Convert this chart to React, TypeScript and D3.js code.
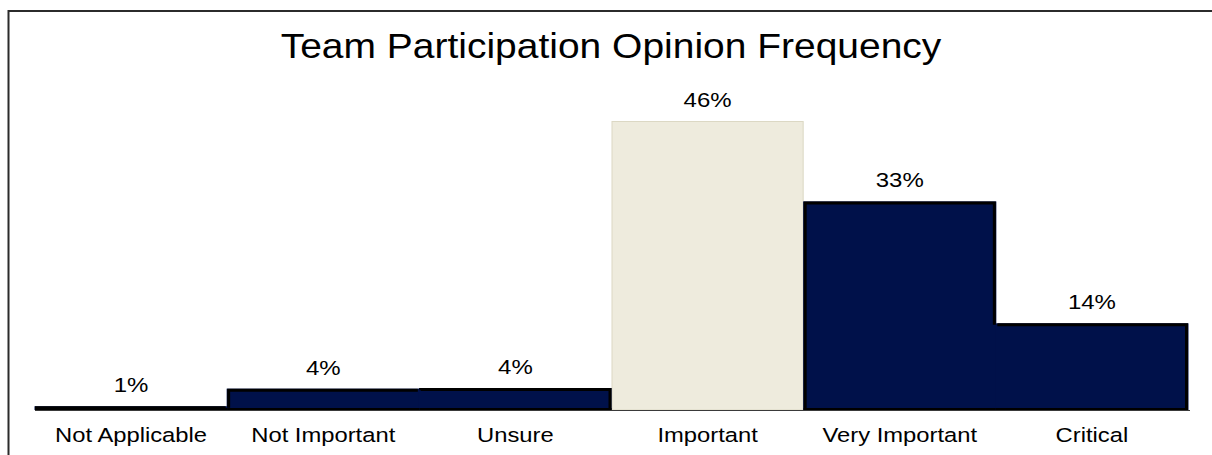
import React from "react";
import * as d3 from "d3";

const categories = ["Not Applicable", "Not Important", "Unsure", "Important", "Very Important", "Critical"];
const values = [0.6, 3.4, 3.5, 46, 33.2, 13.8];
const valueLabels = ["1%", "4%", "4%", "46%", "33%", "14%"];
const highlighted = ["Important"];
const title = "Team Participation Opinion Frequency";

const W = 1212;
const H = 455;
const FONT = "'Liberation Sans', Arial, Helvetica, sans-serif";

export default function App() {
  const x = d3.scaleBand<string>().domain(categories).range([35, 1188]).padding(0);
  const y = d3.scaleLinear().domain([0, 46]).range([410, 121]);
  const bw = x.bandwidth();
  const base = y(0);

  const isHi = (i: number) => highlighted.includes(categories[i]);

  // outline of the dark bars: top edges plus the visible part of the side edges
  const outline = d3.path();
  categories.forEach((c, i) => {
    if (isHi(i)) return;
    const x0 = x(c)! + 1.5;
    const x1 = x(c)! + bw - 1.5;
    const top = y(values[i]) + 1.5;
    const left = i > 0 && !isHi(i - 1) ? Math.max(top, y(values[i - 1]) + 1.5) : base;
    const right = i < categories.length - 1 && !isHi(i + 1) ? Math.max(top, y(values[i + 1]) + 1.5) : base;
    outline.moveTo(x0, left);
    outline.lineTo(x0, top);
    outline.lineTo(x1, top);
    outline.lineTo(x1, right);
  });

  return (
    <svg
      width={W}
      height={H}
      style={{ position: "absolute", left: 0, top: 0, background: "#fff", overflow: "hidden" }}
      fontFamily={FONT}
    >
      <rect x={0} y={0} width={W} height={H} fill="#fff" />
      {/* frame */}
      <path d={`M8.5,${H + 10}V11H${W + 10}`} fill="none" stroke="#2b2b2b" strokeWidth={2} />

      <text transform={`translate(611,58) scale(1.13,1)`} textAnchor="middle" fontSize={34.5} fill="#000">
        {title}
      </text>

      {categories.map((c, i) => {
        const x0 = x(c)!;
        const top = y(values[i]);
        return isHi(i) ? (
          <rect
            key={c}
            x={x0 + 0.5}
            y={top + 0.5}
            width={bw - 1}
            height={base - top - 0.5}
            fill="#EEEBDD"
            stroke="#DCD8C4"
            strokeWidth={1}
          />
        ) : (
          <rect key={c} x={x0 - 0.5} y={top} width={bw + 1} height={base - top} fill="#00114A" />
        );
      })}

      <path d={outline.toString()} fill="none" stroke="#000" strokeWidth={3} strokeLinejoin="miter" />

      {categories.map((c, i) =>
        isHi(i) ? null : (
          <line
            key={"b" + c}
            x1={x(c)!}
            x2={x(c)! + bw}
            y1={base - 1}
            y2={base - 1}
            stroke="#000"
            strokeWidth={2}
          />
        )
      )}

      <line x1={35} x2={1190} y1={410.5} y2={410.5} stroke="#3a3a3a" strokeWidth={1} />

      {categories.map((c, i) => (
        <text
          key={"v" + c}
          transform={`translate(${x(c)! + bw / 2},${y(values[i]) - 14}) scale(1.2,1)`}
          textAnchor="middle"
          fontSize={20}
          fill="#000"
        >
          {valueLabels[i]}
        </text>
      ))}

      {categories.map((c) => (
        <text
          key={"c" + c}
          transform={`translate(${x(c)! + bw / 2},442) scale(1.16,1)`}
          textAnchor="middle"
          fontSize={20.5}
          fill="#000"
        >
          {c}
        </text>
      ))}
    </svg>
  );
}
